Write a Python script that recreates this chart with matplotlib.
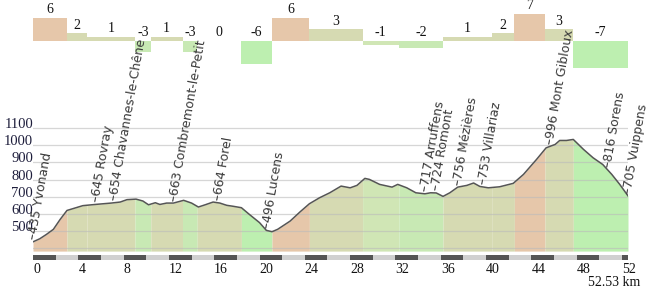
import numpy as np
import matplotlib
matplotlib.use("Agg")
import matplotlib.pyplot as plt

total_km = 52.53

# elevation profile
prof_km = [0, 0.6, 1.2, 1.8, 2.4, 3.0, 3.6, 4.4, 5.5, 6.2, 6.9, 7.7, 8.3, 9.1,
           9.7, 10.2, 10.8, 11.2, 11.8, 12.4, 13.3, 14.0, 14.6, 15.2, 15.9,
           16.5, 17.1, 17.7, 18.4, 19.1, 20.0, 20.6, 21.1, 21.6, 22.7, 23.6,
           24.4, 25.3, 26.2, 27.2, 28.0, 28.6, 29.3, 29.7, 30.6, 31.7, 32.2,
           33.0, 33.8, 34.6, 35.1, 35.6, 36.2, 36.8, 37.5, 38.3, 38.9, 39.45,
           40.2, 41.2, 42.4, 43.3, 44.45, 45.3, 46.1, 46.5, 47.1, 47.7, 48.6,
           49.45, 50.3, 51.1, 51.8, 52.53]
prof_elev = [437, 455, 481, 510, 568, 620, 632, 648, 655, 659, 663, 669, 683,
             686, 675, 653, 665, 655, 663, 663, 679, 663, 640, 653, 669, 663,
             650, 644, 636, 597, 549, 504, 496, 510, 558, 613, 659, 694, 723,
             762, 752, 766, 807, 801, 772, 756, 772, 752, 723, 717, 723, 722,
             702, 723, 756, 766, 780, 760, 752, 758, 778, 830, 917, 985, 1005,
             1028, 1028, 1034, 976, 927, 888, 830, 772, 705]

# gradient segments (%)
seg_edges = [0, 3.0, 4.77, 9.0, 10.4, 13.2, 14.5, 18.4, 21.1, 24.4, 29.1,
             32.3, 36.2, 40.5, 42.5, 45.2, 47.7, 52.53]
seg_grades = [6, 2, 1, -3, 1, -3, 0, -6, 6, 3, -1, -2, 1, 2, 7, 3, -7]

# waypoints
wp_km = [0, 5.5, 7.1, 12.4, 16.3, 20.6, 34.6, 35.5, 37.5, 39.7, 45.6, 50.7,
         52.53]
wp_elev = [435, 645, 654, 663, 664, 496, 717, 724, 756, 753, 996, 816, 705]
wp_name = ["Yvonand", "Rovray", "Chavannes-le-Chêne", "Combremont-le-Petit",
           "Forel", "Lucens", "Arruffens", "Romont", "Mézières", "Villariaz",
           "Mont Gibloux", "Sorens", "Vuippens"]

elev_ticks = [400, 500, 600, 700, 800, 900, 1000, 1100]
km_ticks = [0, 4, 8, 12, 16, 20, 24, 28, 32, 36, 40, 44, 48, 52]

SERIF = "Liberation Serif"


def grade_color(g):
    if g >= 5:
        return "#e6c7aa"
    if g >= 0:
        return "#d6dab2"
    if g >= -1:
        return "#d0e6b5"
    if g >= -4:
        return "#c8e9b4"
    return "#bdefb0"


W, H = 650, 291
fig = plt.figure(figsize=(W / 100, H / 100), dpi=100)
left = 33 / W
width = 595 / W

# gradient bars on top
ax_g = fig.add_axes([left, 1 - 71.5 / H, width, 61.6 / H])
ax_g.set_xlim(0, total_km)
ax_g.set_ylim(-8, 8)
ax_g.axis("off")
for i, g in enumerate(seg_grades):
    a, b = seg_edges[i], seg_edges[i + 1]
    ax_g.bar(a, g, width=b - a, align="edge", color=grade_color(g),
             edgecolor="none")
    ax_g.annotate(str(g), xy=((a + b) / 2, max(g, 0)), xytext=(0, 1),
                  textcoords="offset points", ha="center", va="bottom",
                  fontsize=10, family=SERIF, color="#111111",
                  annotation_clip=False)

# elevation profile
ax = fig.add_axes([left, 1 - 251.1 / H, width, 124.7 / H])
ax.set_xlim(0, total_km)
ax.set_ylim(383, 1110)
for s in ax.spines.values():
    s.set_visible(False)

for i, g in enumerate(seg_grades):
    a, b = seg_edges[i], seg_edges[i + 1]
    xs = [a] + [k for k in prof_km if a < k < b] + [b]
    ys = np.interp(xs, prof_km, prof_elev)
    ax.fill_between(xs, 383, ys, color=grade_color(g), lw=0, zorder=1)

for e in elev_ticks:
    ax.axhline(e, color="#bbbbbb", lw=0.9, alpha=0.6, zorder=2)
ax.plot(prof_km, prof_elev, color="#555555", lw=1.1, zorder=3)

ax.set_xticks([])
ax.set_yticks(elev_ticks)
ax.set_yticklabels([""] + [str(e) for e in elev_ticks[1:]])
ax.tick_params(axis="y", length=0, pad=0, labelsize=10.5,
               labelcolor="#1e1e3c")
for lab in ax.get_yticklabels():
    lab.set_family(SERIF)
    lab.set_va("baseline")

for k, e, name in zip(wp_km, wp_elev, wp_name):
    y = np.interp(k, prof_km, prof_elev)
    ax.annotate(f"–{e} {name}", xy=(k, y), xytext=(0, 1.5),
                textcoords="offset points", rotation=80,
                rotation_mode="anchor", ha="left", va="center",
                fontsize=9, color="#3a3a3a", annotation_clip=False,
                zorder=4)

# scale bar
ax_s = fig.add_axes([left, 1 - 259.5 / H, width, 4.5 / H])
ax_s.set_xlim(0, total_km)
ax_s.set_ylim(0, 1)
for s in ax_s.spines.values():
    s.set_visible(False)
bar_edges = list(range(0, 53, 2)) + [total_km]
for i in range(len(bar_edges) - 1):
    a, b = bar_edges[i], bar_edges[i + 1]
    ax_s.add_patch(plt.Rectangle((a, 0), b - a, 1,
                                 color="#555555" if i % 2 == 0 else "#d0d0d0",
                                 lw=0))
ax_s.set_yticks([])
ax_s.set_xticks(km_ticks)
ax_s.set_xticklabels([str(t) for t in km_ticks])
ax_s.tick_params(axis="x", length=0, pad=2.5, labelsize=10,
                 labelcolor="#111111")
for lab in ax_s.get_xticklabels():
    lab.set_family(SERIF)
    lab.set_ha("left")

fig.text(640 / W, 1 - 283 / H, f"{total_km} km", ha="right", va="center",
         fontsize=10, family=SERIF, color="#111111")

fig.savefig("out.png", dpi=100)
